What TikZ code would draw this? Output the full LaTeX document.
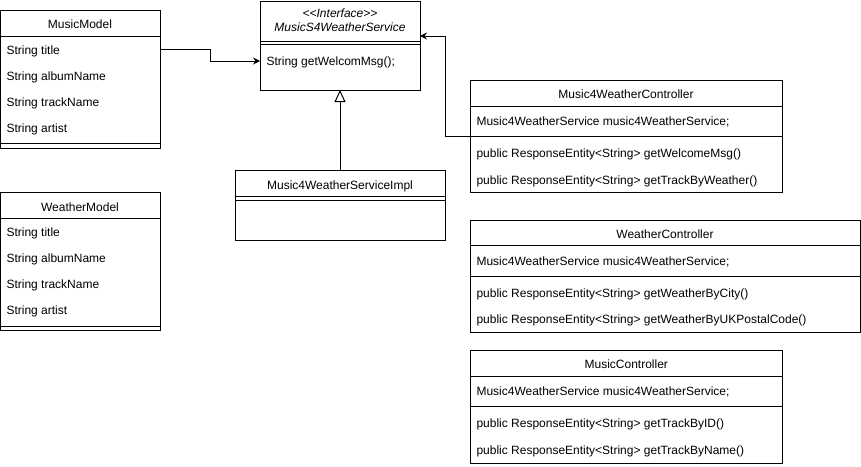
\documentclass[tikz,border=0pt]{standalone}
\usepackage{fontspec}
\setmainfont{Liberation Sans}
\usetikzlibrary{arrows.meta}

\newcommand\umlfont{\fontsize{12}{14}\selectfont}

\tikzset{
  umlbox/.style={draw, rectangle, anchor=north west, inner sep=0pt, outer sep=0pt, fill=white},
  member/.style={anchor=base west, inner sep=0pt, font=\umlfont},
  classname/.style={anchor=base, inner sep=0pt, font=\umlfont},
  assoc/.style={-{Stealth[length=7pt,width=7pt,inset=2.5pt]}},
  realize/.style={-{Triangle[open,length=12pt,width=11pt]}}
}

\begin{document}
\begin{tikzpicture}[x=1pt, y=-1pt, line width=1pt]
\useasboundingbox (0,0) rectangle (861,466);

% ---------- MusicModel ----------
\node[umlbox, minimum width=159.5pt, minimum height=138pt] (musicModel) at (0.5,10) {};
\draw ([yshift=-26pt]musicModel.north west) -- ([yshift=-26pt]musicModel.north east);
\draw ([yshift=4.5pt]musicModel.south west) -- ([yshift=4.5pt]musicModel.south east);
\node[classname] at (80,28.3) {MusicModel};
\node[member] (mmTitle)  at (6,54.3)  {String title};
\node[member] (mmAlbum)  at (6,80.3)  {String albumName};
\node[member] (mmTrack)  at (6,106.3) {String trackName};
\node[member] (mmArtist) at (6,132.3) {String artist};

% ---------- WeatherModel ----------
\node[umlbox, minimum width=159.5pt, minimum height=138pt] (weatherModel) at (0.5,192.5) {};
\draw ([yshift=-26pt]weatherModel.north west) -- ([yshift=-26pt]weatherModel.north east);
\draw ([yshift=4.5pt]weatherModel.south west) -- ([yshift=4.5pt]weatherModel.south east);
\node[classname] at (80,211) {WeatherModel};
\node[member] (wmTitle)  at (6,236.7) {String title};
\node[member] (wmAlbum)  at (6,262.7) {String albumName};
\node[member] (wmTrack)  at (6,288.7) {String trackName};
\node[member] (wmArtist) at (6,314.7) {String artist};

% ---------- Interface ----------
\node[umlbox, minimum width=160pt, minimum height=89pt] (iface) at (260,1) {};
\draw ([yshift=-40pt]iface.north west) -- ([yshift=-40pt]iface.north east);
\draw ([yshift=-43.5pt]iface.north west) -- ([yshift=-43.5pt]iface.north east);
\node[classname, font=\umlfont\itshape] at (340,17.3) {<\kern0pt<Interface>\kern0pt>};
\node[classname, font=\umlfont\itshape] at (340,31.7) {MusicS4WeatherService};
\node[member] (ifaceMethod) at (266,65.5) {String getWelcomMsg();};

% ---------- Implementation ----------
\node[umlbox, minimum width=210pt, minimum height=70pt] (impl) at (235,170) {};
\draw ([yshift=-26.5pt]impl.north west) -- ([yshift=-26.5pt]impl.north east);
\draw ([yshift=-30pt]impl.north west) -- ([yshift=-30pt]impl.north east);
\node[classname] at (340,189.3) {Music4WeatherServiceImpl};

% ---------- Music4WeatherController ----------
\node[umlbox, minimum width=312pt, minimum height=111.5pt] (m4c) at (470,80.5) {};
\draw ([yshift=-25.5pt]m4c.north west) -- ([yshift=-25.5pt]m4c.north east);
\coordinate (m4cDiv) at ([yshift=-56pt]m4c.north west);
\draw (m4cDiv) -- ([yshift=-56pt]m4c.north east);
\node[classname] at (626,98.5) {Music4WeatherController};
\node[member] (m4cField)   at (476,125.3) {Music4WeatherService music4WeatherService;};
\node[member] (m4cWelcome) at (476,157.7) {public ResponseEntity<String> getWelcomeMsg()};
\node[member] (m4cTrack)   at (476,184.2) {public ResponseEntity<String> getTrackByWeather()};

% ---------- WeatherController ----------
\node[umlbox, minimum width=390pt, minimum height=112.5pt] (wc) at (470,220) {};
\draw ([yshift=-25.5pt]wc.north west) -- ([yshift=-25.5pt]wc.north east);
\draw ([yshift=-56pt]wc.north west) -- ([yshift=-56pt]wc.north east);
\node[classname] at (665,238.3) {WeatherController};
\node[member] (wcField) at (476,265)   {Music4WeatherService music4WeatherService;};
\node[member] (wcCity)  at (476,297.4) {public ResponseEntity<String> getWeatherByCity()};
\node[member] (wcPost)  at (476,323.8) {public ResponseEntity<String> getWeatherByUKPostalCode()};

% ---------- MusicController ----------
\node[umlbox, minimum width=312.5pt, minimum height=112.5pt] (mc) at (470,350.5) {};
\draw ([yshift=-25.5pt]mc.north west) -- ([yshift=-25.5pt]mc.north east);
\draw ([yshift=-56pt]mc.north west) -- ([yshift=-56pt]mc.north east);
\node[classname] at (626.25,368.8) {MusicController};
\node[member] (mcField) at (476,395.3) {Music4WeatherService music4WeatherService;};
\node[member] (mcId)    at (476,427.7) {public ResponseEntity<String> getTrackByID()};
\node[member] (mcName)  at (476,454.2) {public ResponseEntity<String> getTrackByName()};

% ---------- connectors ----------
\draw[assoc] ([yshift=-39.3pt]musicModel.north east) -- ++(50,0) |- ([yshift=-60pt]iface.north west);
\draw[assoc] (m4cDiv) -- ++(-25,0) |- ([yshift=-35pt]iface.north east);
\draw[realize] (impl.north) -- (iface.south);

\end{tikzpicture}
\end{document}
